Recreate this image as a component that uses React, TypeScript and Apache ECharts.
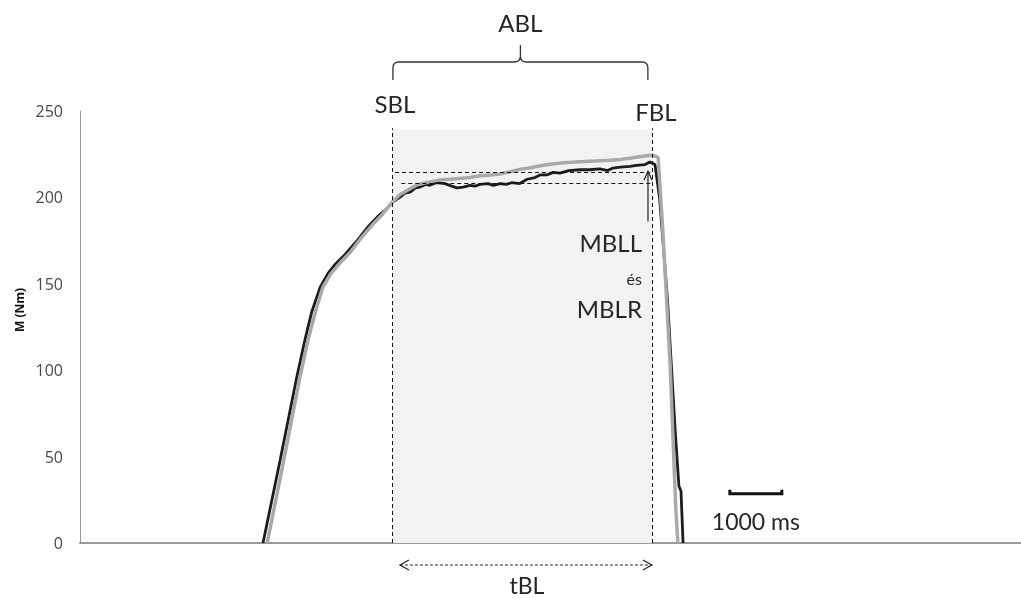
import React, { useEffect, useRef } from "react";
import * as echarts from "echarts";

// time in ms, torque in Nm
const blackX = [3520, 3850, 4170, 4330, 4460, 4620, 4770, 4900, 5100, 5330, 5540, 5730, 5920, 6020, 6150, 6250, 6350, 6450, 6540, 6650, 6730, 6850, 7020, 7150, 7250, 7370, 7500, 7600, 7690, 7850, 7950, 8080, 8200, 8300, 8460, 8600, 8750, 8850, 8980, 9100, 9230, 9400, 9620, 9800, 10000, 10150, 10250, 10400, 10580, 10700, 10870, 10960, 11060, 11150, 11300, 11450, 11520, 11560, 11600];
const blackY = [0, 48, 96, 118, 134, 148, 156, 161, 167, 175, 183, 189, 194, 197.5, 200, 202.5, 203, 205.5, 206, 207.5, 207, 208.5, 208, 206.5, 205.5, 206, 207, 206.5, 207.5, 208, 207, 208, 207.5, 208.5, 208, 210.5, 211.5, 213, 213, 214.5, 214, 215.5, 216, 216, 216.5, 215.5, 217, 217.5, 218, 218.5, 219, 220.5, 219, 199, 141, 64, 33, 30, 0];

const grayX = [3600, 3920, 4230, 4390, 4540, 4670, 4830, 5000, 5190, 5420, 5620, 5810, 6000, 6150, 6350, 6500, 6730, 6900, 7120, 7300, 7500, 7690, 7900, 8080, 8300, 8500, 8650, 8800, 9000, 9140, 9300, 9620, 9900, 10190, 10400, 10580, 10750, 10870, 11020, 11120, 11210, 11350, 11460, 11500];
const grayY = [0, 48, 96, 118, 135, 148, 156, 162, 168, 177, 184, 190, 197, 201.5, 205, 207.5, 209, 210, 210.5, 211, 211.5, 212.5, 213, 213.5, 215, 216.5, 217, 218, 219, 219.5, 220, 220.7, 221, 221.5, 222, 222.6, 223.5, 224, 224.5, 223, 181, 104, 20, 0];

const yTicks = [0, 50, 100, 150, 200, 250];
const X_MAX = 18100;
const SBL_MS = 6000;
const FBL_MS = 11000;
const SHADE_TOP = 239;
const MBLL_VAL = 208.2;
const MBLR_VAL = 214.3;
const ARROW_MS = 10925;
const ARROW_FROM = 186;
const SCALE_START = 12500;
const SCALE_END = 13500;
const SCALE_VAL = 28.5;

const FONT = "Lato, 'Open Sans', sans-serif";
const TXT = "#262626";

export default function App() {
  const ref = useRef<HTMLDivElement>(null);
  useEffect(() => {
    const chart = echarts.init(ref.current!, undefined, { renderer: "svg" });
    const bData = blackX.map((x, i) => [x, blackY[i]]);
    const gData = grayX.map((x, i) => [x, grayY[i]]);
    chart.setOption({
      animation: false,
      grid: { left: 80, right: 0, top: 111, bottom: 56 },
      xAxis: {
        type: "value",
        min: 0,
        max: X_MAX,
        axisLine: { show: true, lineStyle: { color: "#9a9a9a", width: 2 } },
        axisTick: { show: false },
        axisLabel: { show: false },
        splitLine: { show: false },
      },
      yAxis: {
        type: "value",
        min: yTicks[0],
        max: yTicks[yTicks.length - 1],
        interval: 50,
        axisLine: { show: true, lineStyle: { color: "#9a9a9a", width: 1 } },
        axisTick: { show: false },
        splitLine: { show: false },
        axisLabel: { color: "#4a4a4a", fontSize: 16, fontFamily: "'Open Sans', sans-serif", margin: 17 },
      },
      series: [
        {
          type: "line",
          data: [],
          silent: true,
          markArea: {
            silent: true,
            itemStyle: { color: "#f2f2f2" },
            data: [[{ coord: [SBL_MS, 0] }, { coord: [FBL_MS, SHADE_TOP] }]],
          },
          markLine: {
            silent: true,
            symbol: "none",
            label: { show: false },
            lineStyle: { color: "#111", width: 1, type: [4, 3] },
            data: [
              [{ coord: [SBL_MS, 0] }, { coord: [SBL_MS, SHADE_TOP + 1] }],
              [{ coord: [FBL_MS, 0] }, { coord: [FBL_MS, SHADE_TOP + 1] }],
              [{ coord: [SBL_MS + 60, MBLR_VAL] }, { coord: [FBL_MS - 30, MBLR_VAL] }],
              [{ coord: [SBL_MS + 180, MBLL_VAL] }, { coord: [FBL_MS - 30, MBLL_VAL] }],
            ],
          },
        },
        {
          type: "line",
          data: bData,
          showSymbol: false,
          lineStyle: { color: "#1c1c1c", width: 2.8 },
          z: 3,
        },
        {
          type: "line",
          data: gData,
          showSymbol: false,
          lineStyle: { color: "#a9a9a9", width: 3.5 },
          z: 4,
        },
      ],
    });

    const px = (x: number, y: number) => chart.convertToPixel({ gridIndex: 0 }, [x, y]) as number[];
    const [xL] = px(SBL_MS, 0);
    const [xR] = px(FBL_MS, 0);
    const [xA, yArrowFrom] = px(ARROW_MS, ARROW_FROM);
    const [, yArrowTip] = px(ARROW_MS, MBLR_VAL + 0.8);
    const [xs1, ys] = px(SCALE_START, SCALE_VAL);
    const [xs2] = px(SCALE_END, SCALE_VAL);
    const [, yBase] = px(0, 0);

    const braceL = xL + 1;
    const braceR = xR - 4;
    const braceC = (braceL + braceR) / 2;
    const d = `M ${braceL} 80 L ${braceL} 68 Q ${braceL} 62 ${braceL + 6} 62 L ${braceC - 6} 62 Q ${braceC} 62 ${braceC} 56 L ${braceC} 45 M ${braceC} 56 Q ${braceC} 62 ${braceC + 6} 62 L ${braceR - 6} 62 Q ${braceR} 62 ${braceR} 68 L ${braceR} 80`;
    echarts.graphic.registerShape("brace", echarts.graphic.extendPath(d, {}));

    const yDA = yBase + 22;
    const text = (t: string, x: number, y: number, size: number, align = "center") => ({
      type: "text",
      x,
      y,
      style: { text: t, fill: TXT, font: `${size}px ${FONT}`, align, verticalAlign: "middle" },
      z: 10,
    });

    chart.setOption({
      graphic: [
        { type: "brace", x: 0, y: 0, style: { stroke: "#333", lineWidth: 1.3, fill: "none" }, z: 10 },
        text("ABL", braceC, 22, 24),
        text("SBL", xL + 3, 103, 24),
        text("FBL", xR + 4, 111, 24),
        text("MBLL", xA - 6, 242, 24, "right"),
        text("és", xA - 6, 278, 16, "right"),
        text("MBLR", xA - 6, 308, 24, "right"),
        text("tBL", (xL + xR) / 2 + 5, 585, 23),
        text("1000 ms", (xs1 + xs2) / 2, ys + 27, 23),
        {
          type: "line",
          shape: { x1: xA, y1: yArrowFrom, x2: xA, y2: yArrowTip },
          style: { stroke: "#222", lineWidth: 1.2 },
          z: 10,
        },
        {
          type: "polyline",
          shape: { points: [[xA - 4, yArrowTip + 9], [xA, yArrowTip], [xA + 4, yArrowTip + 9]] },
          style: { stroke: "#222", lineWidth: 1.2, fill: "none" },
          z: 10,
        },
        {
          type: "line",
          shape: { x1: xL + 8, y1: yDA, x2: xR, y2: yDA },
          style: { stroke: "#222", lineWidth: 1, lineDash: [3, 2] },
          z: 10,
        },
        {
          type: "polyline",
          shape: { points: [[xL + 17, yDA - 5], [xL + 8, yDA], [xL + 17, yDA + 5]] },
          style: { stroke: "#222", lineWidth: 1.2, fill: "none" },
          z: 10,
        },
        {
          type: "polyline",
          shape: { points: [[xR - 9, yDA - 5], [xR, yDA], [xR - 9, yDA + 5]] },
          style: { stroke: "#222", lineWidth: 1.2, fill: "none" },
          z: 10,
        },
        {
          type: "polyline",
          shape: { points: [[xs1, ys - 4], [xs1, ys], [xs2, ys], [xs2, ys - 4]] },
          style: { stroke: "#111", lineWidth: 3, fill: "none" },
          z: 10,
        },
        {
          type: "text",
          x: 19,
          y: 310,
          rotation: Math.PI / 2,
          style: { text: "M (Nm)", fill: "#111", font: "bold 12px 'Open Sans', sans-serif", align: "center", verticalAlign: "middle" },
          z: 10,
        },
      ],
    });

    return () => chart.dispose();
  }, []);
  return <div ref={ref} style={{ position: "fixed", left: 0, top: 0, width: 1021, height: 599 }} />;
}
